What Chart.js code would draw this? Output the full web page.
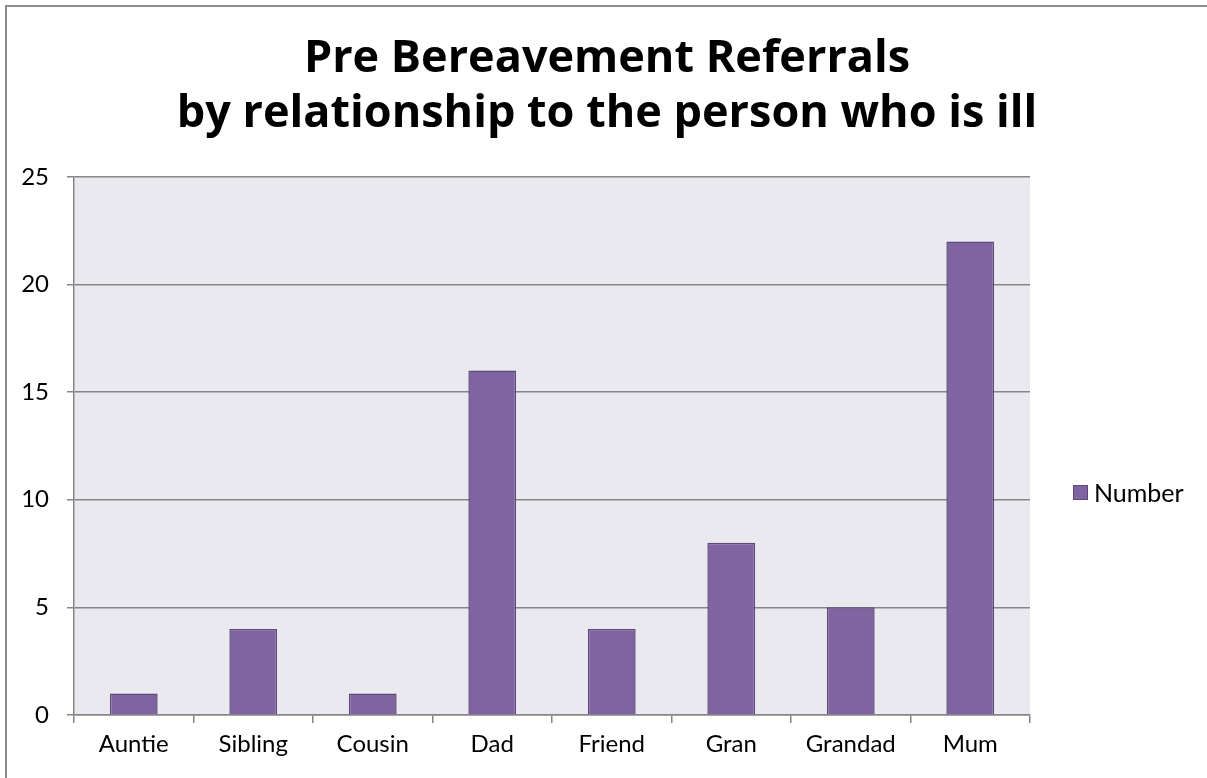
<!DOCTYPE html>
<html>
<head>
<meta charset="utf-8">
<script src="https://cdn.jsdelivr.net/npm/chart.js@4.4.0/dist/chart.umd.min.js"></script>
<style>
  body { margin: 0; background: #fff; }
  #wrap { position: relative; width: 1207px; height: 778px; overflow: hidden; }
  #frame { position: absolute; left: 5px; top: 5px; width: 1210px; height: 800px;
           border-left: 2px solid #8c8c8c; border-top: 2px solid #8c8c8c; }
  #legend { position: absolute; left: 1073px; top: 477px; font: 25px Lato, sans-serif;
            color: #000; display: flex; align-items: center; }
  #legend .box { width: 13px; height: 13px; background: #8064A2; border: 1px solid #5E4A7A;
                 margin-right: 6px; }
</style>
</head>
<body>
<div id="wrap">
  <canvas id="chart" width="1207" height="778"></canvas>
  <div id="frame"></div>
  <div id="legend"><span class="box"></span><span>Number</span></div>
</div>
<script>
const relationships = ['Auntie', 'Sibling', 'Cousin', 'Dad', 'Friend', 'Gran', 'Grandad', 'Mum'];
const referrals = [1, 4, 1, 16, 4, 8, 5, 22];
const titleLines = ['Pre Bereavement Referrals', 'by relationship to the person who is ill'];

// shade the plot area like the original
const plotBg = {
  id: 'plotBg',
  beforeDraw(chart) {
    const { ctx, chartArea: a } = chart;
    ctx.save();
    ctx.fillStyle = '#EBE9F0';
    ctx.fillRect(a.left, a.top, a.right - a.left, a.bottom - a.top);
    ctx.restore();
  }
};

const ctx = document.getElementById('chart').getContext('2d');
new Chart(ctx, {
  type: 'bar',
  data: {
    labels: relationships,
    datasets: [{
      label: 'Number',
      data: referrals,
      backgroundColor: '#8064A2',
      borderColor: '#5E4A7A',
      borderWidth: 1.5,
      categoryPercentage: 1,
      barPercentage: 0.4
    }]
  },
  options: {
    responsive: false,
    animation: false,
    layout: { padding: { left: 7, right: 0, top: 0, bottom: 0 } },
    plugins: {
      legend: { display: false },
      tooltip: { enabled: false },
      title: {
        display: true,
        text: titleLines,
        color: '#000',
        font: { family: 'Open Sans', size: 45, weight: 'bold', lineHeight: 1.22 },
        padding: { top: 32, bottom: 35 }
      }
    },
    scales: {
      x: {
        grid: { display: true, drawOnChartArea: false, color: '#868686', lineWidth: 1.5, tickLength: 8, offset: true },
        border: { display: true, color: '#868686', width: 1.5 },
        ticks: { color: '#000', font: { family: 'Lato', size: 24 }, padding: 7, maxRotation: 0 },
        afterFit(scale) { scale.height = 63; }
      },
      y: {
        min: 0, max: 25,
        ticks: { stepSize: 5, color: '#000', font: { family: 'Lato', size: 24 }, padding: 18 },
        grid: { color: '#868686', lineWidth: 1.5, tickLength: 7 },
        border: { display: true, color: '#868686', width: 1.5 },
        afterFit(scale) { scale.width = 67; }
      },
      // empty right-hand axis that reserves room for the legend
      side: {
        position: 'right', min: 0, max: 1,
        grid: { display: false }, border: { display: false }, ticks: { display: false },
        afterFit(scale) { scale.width = 177; }
      }
    }
  },
  plugins: [plotBg]
});
</script>
</body>
</html>
